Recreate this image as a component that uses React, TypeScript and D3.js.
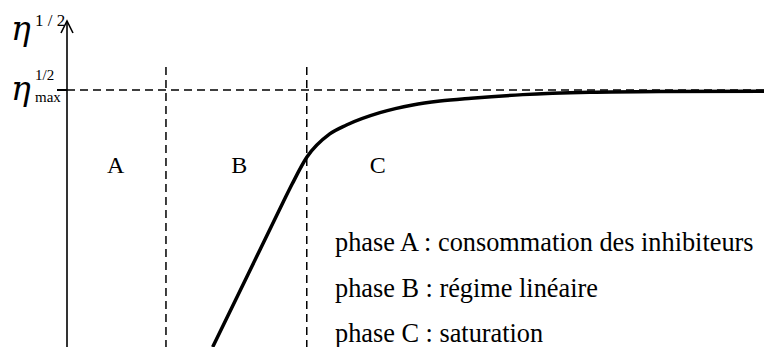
import * as d3 from 'd3'

// phase boundaries (time axis, arbitrary units 0..100)
const phaseBounds = [14.2, 34.4]
const phaseLabels = ['A', 'B', 'C']
const phaseLabelPos = [7.0, 24.7, 44.6]

// eta^1/2 curve, normalised to eta_max^1/2 = 1
const curveT = [20.9, 26.0, 31.0, 32.3, 34.4, 37.7, 40.1, 44.9, 49.6, 53.5, 58.0, 65.4, 75.0, 85.0, 100]
const curveV = [0, 0.284, 0.563, 0.634, 0.738, 0.829, 0.864, 0.912, 0.942, 0.957, 0.968, 0.982, 0.991, 0.994, 0.995]

const legendLines = [
  'phase A : consommation des inhibiteurs',
  'phase B : régime linéaire',
  'phase C : saturation',
]

const W = 764
const H = 347
const axisX = 67
const serif = '"Liberation Serif", "Times New Roman", serif'
const greek = '"DejaVu Serif", "Liberation Serif", serif'

export default function App() {
  const x = d3.scaleLinear().domain([0, 100]).range([axisX, W])
  const y = d3.scaleLinear().domain([0, 1]).range([H, 90])

  const line = d3
    .line<number>()
    .x((d, i) => x(curveT[i]))
    .y((d) => y(d))
    .curve(d3.curveMonotoneX)

  const yMax = y(1)

  return (
    <svg
      width={W}
      height={H}
      style={{ position: 'absolute', left: 0, top: 0, background: '#fff', fontFamily: serif }}
    >
      {/* y axis with open arrow */}
      <line x1={axisX} x2={axisX} y1={21} y2={H} stroke="#000" strokeWidth={1.6} />
      <polyline
        points={`${axisX - 6},${33} ${axisX},${21} ${axisX + 6},${33}`}
        fill="none"
        stroke="#000"
        strokeWidth={1.6}
      />
      {/* tick at eta max */}
      <line x1={57} x2={axisX} y1={yMax} y2={yMax} stroke="#000" strokeWidth={2} />

      {/* dashed reference lines */}
      <line
        x1={axisX}
        x2={W}
        y1={yMax}
        y2={yMax}
        stroke="#000"
        strokeWidth={1.5}
        strokeDasharray="8,5"
      />
      {phaseBounds.map((b) => (
        <line
          key={b}
          x1={x(b)}
          x2={x(b)}
          y1={67}
          y2={H}
          stroke="#000"
          strokeWidth={1.5}
          strokeDasharray="8,5"
        />
      ))}

      {/* curve */}
      <path d={line(curveV) || ''} fill="none" stroke="#000" strokeWidth={3.5} />

      {/* phase letters */}
      {phaseLabels.map((l, i) => (
        <text key={l} x={x(phaseLabelPos[i])} y={173} fontSize={24} textAnchor="middle">
          {l}
        </text>
      ))}

      {/* legend */}
      {legendLines.map((t, i) => (
        <text key={t} x={335} y={251 + i * 45.5} fontSize={26.3}>
          {t}
        </text>
      ))}

      {/* y label */}
      <text x={11} y={40} fontSize={33} fontStyle="italic" style={{ fontFamily: greek }}>
        η
      </text>
      <text x={35} y={26} fontSize={17}>
        1 / 2
      </text>

      {/* eta max label */}
      <text x={11} y={100} fontSize={33} fontStyle="italic" style={{ fontFamily: greek }}>
        η
      </text>
      <text x={35} y={80} fontSize={15}>
        1/2
      </text>
      <text x={35} y={102} fontSize={15}>
        max
      </text>
    </svg>
  )
}
